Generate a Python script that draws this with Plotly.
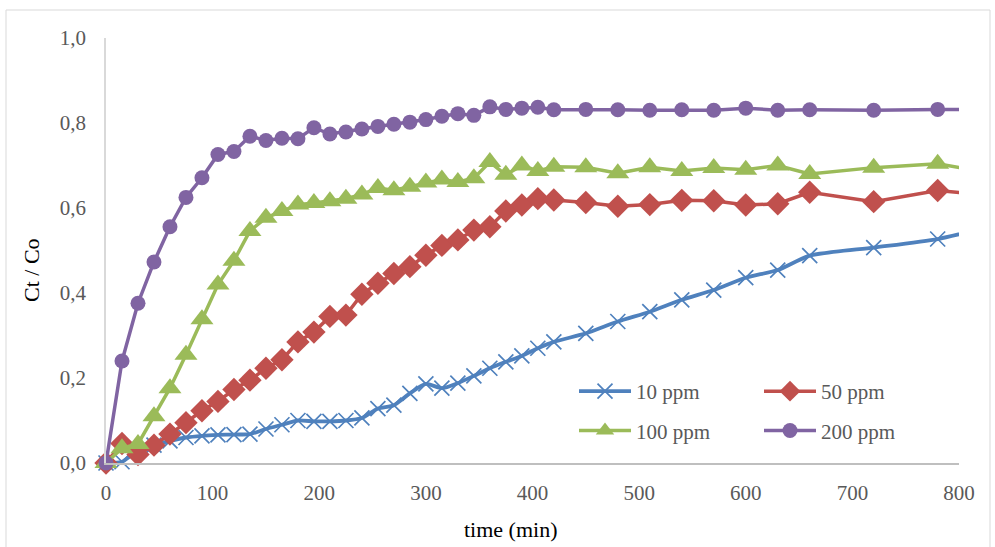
import plotly.graph_objects as go

time_min = [0, 15, 30, 45, 60, 75, 90, 105, 120, 135, 150, 165, 180, 195, 210,
            225, 240, 255, 270, 285, 300, 315, 330, 345, 360, 375, 390, 405, 420,
            450, 480, 510, 540, 570, 600, 630, 660, 720, 780, 840]

ppm10 = [0, 0.003, 0.03, 0.042, 0.052, 0.06, 0.064, 0.066, 0.067, 0.068, 0.08, 0.09,
         0.1, 0.098, 0.098, 0.1, 0.106, 0.128, 0.136, 0.164, 0.186, 0.176, 0.188,
         0.205, 0.223, 0.238, 0.252, 0.27, 0.285,
         0.305, 0.333, 0.356, 0.384, 0.407, 0.436, 0.454, 0.488, 0.507, 0.527, 0.563]

ppm50 = [0, 0.046, 0.02, 0.042, 0.068, 0.095, 0.123, 0.145, 0.173, 0.195, 0.223, 0.243,
         0.285, 0.308, 0.345, 0.348, 0.397, 0.423, 0.446, 0.462, 0.489, 0.512, 0.525,
         0.548, 0.556, 0.593, 0.607, 0.622, 0.619,
         0.613, 0.604, 0.608, 0.618, 0.617, 0.607, 0.61, 0.637, 0.615, 0.641, 0.627]

ppm100 = [0, 0.035, 0.045, 0.11, 0.176, 0.255, 0.338, 0.42, 0.476, 0.546, 0.577, 0.593,
          0.608, 0.612, 0.616, 0.622, 0.632, 0.647, 0.642, 0.65, 0.66, 0.667, 0.661,
          0.67, 0.708, 0.678, 0.7, 0.687, 0.697,
          0.696, 0.682, 0.696, 0.687, 0.694, 0.69, 0.7, 0.68, 0.695, 0.704, 0.678]

ppm200 = [0, 0.24, 0.376, 0.473, 0.556, 0.625, 0.671, 0.726, 0.733, 0.769, 0.759, 0.764,
          0.763, 0.789, 0.774, 0.779, 0.786, 0.792, 0.797, 0.802, 0.808, 0.816, 0.822,
          0.818, 0.838, 0.832, 0.835, 0.837, 0.831,
          0.832, 0.831, 0.83, 0.831, 0.83, 0.835, 0.83, 0.831, 0.83, 0.832, 0.831]

series_names = ["10 ppm", "50 ppm", "100 ppm", "200 ppm"]
y_ticks = [0, 0.2, 0.4, 0.6, 0.8, 1.0]
x_ticks = [0, 100, 200, 300, 400, 500, 600, 700, 800]

W, H = 995, 547
L, R, T, B = 106, 36, 38, 84
pw, ph = W - L - R, H - T - B

def px_x(p):
    return (p - L) / pw

def px_y(p):
    return (H - B - p) / ph

serif = "Liberation Serif, Times New Roman, serif"
grey_txt = "#595959"

fig = go.Figure()

fig.add_trace(go.Scatter(
    x=time_min, y=ppm10, name=series_names[0], mode="lines+markers",
    line=dict(color="#4F81BD", width=3.8, shape="spline", smoothing=0.6),
    marker=dict(symbol="x-thin", size=15, line=dict(color="#4F81BD", width=1.7), color="#4F81BD"),
    cliponaxis=False, legend="legend", legendgroup="a"))
fig.add_trace(go.Scatter(
    x=time_min, y=ppm50, name=series_names[1], mode="lines+markers",
    line=dict(color="#C0504D", width=3.5),
    marker=dict(symbol="diamond", size=18, color="#C0504D"),
    cliponaxis=False, legend="legend2", legendgroup="b"))
fig.add_trace(go.Scatter(
    x=time_min, y=ppm100, name=series_names[2], mode="lines+markers",
    line=dict(color="#9BBB59", width=3.5),
    marker=dict(symbol="triangle-up", size=20, color="#9BBB59"),
    cliponaxis=False, legend="legend", legendgroup="c"))
fig.add_trace(go.Scatter(
    x=time_min, y=ppm200, name=series_names[3], mode="lines+markers",
    line=dict(color="#8064A2", width=3.5),
    marker=dict(symbol="circle", size=15, color="#8064A2"),
    cliponaxis=False, legend="legend2", legendgroup="d"))

legend_common = dict(
    orientation="v", bgcolor="rgba(0,0,0,0)", font=dict(family=serif, size=21, color=grey_txt),
    tracegroupgap=9, xanchor="left", yanchor="top", itemwidth=52)

fig.update_layout(
    width=W, height=H,
    margin=dict(l=L, r=R, t=T, b=B, pad=0),
    paper_bgcolor="white", plot_bgcolor="white",
    separators=", ",
    font=dict(family=serif, color=grey_txt),
    showlegend=True,
    legend=dict(x=px_x(574), y=px_y(371), **legend_common),
    legend2=dict(x=px_x(759), y=px_y(371), **legend_common),
    xaxis=dict(range=[0, 800], tickvals=x_ticks, showgrid=False, zeroline=False,
               showline=True, linecolor="#bfbfbf", linewidth=1.5, ticks="",
               tickfont=dict(family=serif, size=21, color=grey_txt), ticklabelstandoff=10),
    yaxis=dict(range=[0, 1.0], tickvals=y_ticks, tickformat=".1f", showgrid=False,
               zeroline=False, showline=True, linecolor="#d9d9d9", linewidth=1.5, ticks="",
               tickfont=dict(family=serif, size=21, color=grey_txt), ticklabelstandoff=14),
    annotations=[
        dict(text="time (min)", xref="paper", yref="paper", x=px_x(510), y=px_y(529),
             showarrow=False, xanchor="center", yanchor="middle",
             font=dict(family=serif, size=22, color="black")),
        dict(text="Ct / Co", xref="paper", yref="paper", x=px_x(31), y=px_y(270),
             showarrow=False, xanchor="center", yanchor="middle", textangle=-90,
             font=dict(family=serif, size=22, color="black")),
    ],
    shapes=[
        dict(type="rect", xref="paper", yref="paper", x0=px_x(6), x1=px_x(990),
             y0=px_y(560), y1=px_y(10), line=dict(color="#d9d9d9", width=1),
             fillcolor="rgba(0,0,0,0)", layer="below"),
    ],
)

fig.write_html("out.html")
